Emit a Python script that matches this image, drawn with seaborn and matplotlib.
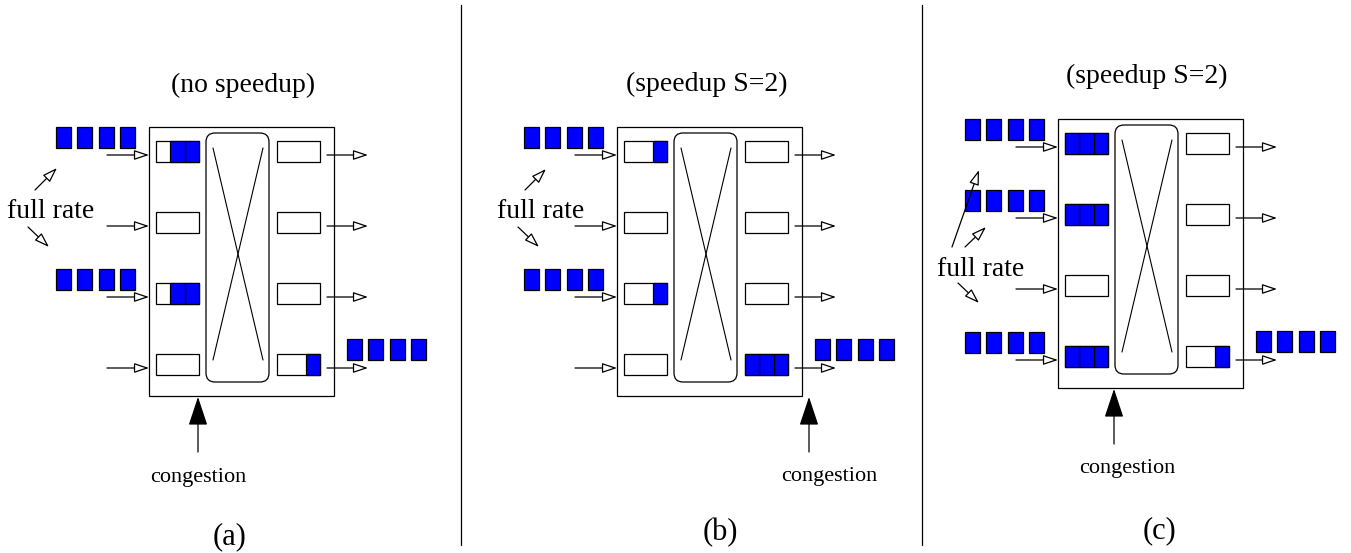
import matplotlib
matplotlib.use("Agg")
import matplotlib.pyplot as plt
from matplotlib.patches import Rectangle, FancyBboxPatch, FancyArrowPatch
import seaborn as sns


# --- diagram content ---
panel_labels = ["(a)", "(b)", "(c)"]
titles = ["(no speedup)", "(speedup S=2)", "(speedup S=2)"]
# packets waiting in each input / output queue (rows top to bottom)
in_queue = [[2, 0, 2, 0], [1, 0, 1, 0], [3, 3, 0, 3]]
out_queue = [[0, 0, 0, 1], [0, 0, 0, 3], [0, 0, 0, 1]]
# inputs receiving traffic at full rate, outputs sending
arrivals = [[0, 2], [0, 2], [0, 1, 3]]
departures = [[3], [3], [3]]
burst_len = 4
queue_cells = 3
n_ports = 4

# --- layout (pixels) ---
box_xy = [(149, 127), (617, 127), (1058, 119)]
box_w, box_h = 185, 269
row_pitch = 71
q_top0 = 14
q_w, q_h = 43, 21
in_q_x, out_q_x = 7, 128
pkt_w, pkt_pitch = 15, 21.3
title_pos = [(243, 92), (707, 91), (1147, 83)]
label_pos = [(230, 544), (720, 540), (1160, 538)]
cong_x = [49, 192, 56]
cong_text = [(198, 482), (829, 481), (1127, 473)]
rate_text = [(51, 218), (541, 218), (981, 276)]
rate_arrows = [
    [((35, 190), (57, 168)), ((28, 227), (49, 247))],
    [((525, 190), (546, 169)), ((518, 227), (539, 247))],
    [((952, 247), (979, 170)), ((965, 247), (986, 227)), ((958, 283), (979, 303))],
]
separators = [461, 922]
BLUE = "#0000ff"

sns.set_style("white")
plt.rcParams["font.family"] = ["Liberation Serif", "DejaVu Serif"]
plt.rcParams["text.color"] = "black"

fig = plt.figure(figsize=(13.51, 5.53), dpi=100)
ax = fig.add_axes([0, 0, 1, 1])
ax.set_xlim(0, 1351)
ax.set_ylim(553, 0)
ax.axis("off")

LW = 0.9


def hollow_arrow(p0, p1, scale=10):
    ax.add_patch(FancyArrowPatch(p0, p1, arrowstyle="-|>,head_length=0.9,head_width=0.3",
                                 mutation_scale=scale, lw=LW, ec="black", fc="white",
                                 shrinkA=0, shrinkB=0))


def queue(x, y, filled):
    ax.add_patch(Rectangle((x, y), q_w, q_h, fill=False, ec="black", lw=LW))
    cw = q_w / queue_cells
    for k in range(filled):
        ax.add_patch(Rectangle((x + q_w - (k + 1) * cw, y), cw, q_h,
                               fc=BLUE, ec="black", lw=LW))


def burst(x, y):
    for k in range(burst_len):
        ax.add_patch(Rectangle((x + k * pkt_pitch, y), pkt_w, q_h,
                               fc=BLUE, ec="black", lw=LW))


for i in range(3):
    bx, by = box_xy[i]
    ax.add_patch(Rectangle((bx, by), box_w, box_h, fill=False, ec="black", lw=LW))
    # crossbar
    ax.add_patch(FancyBboxPatch((bx + 57, by + 6), 63, 249,
                                boxstyle="round,pad=0,rounding_size=9",
                                fill=False, ec="black", lw=LW))
    ax.plot([bx + 64, bx + 114], [by + 21, by + 233], color="black", lw=0.8)
    ax.plot([bx + 114, bx + 64], [by + 21, by + 233], color="black", lw=0.8)

    for r in range(n_ports):
        qy = by + q_top0 + r * row_pitch
        queue(bx + in_q_x, qy, in_queue[i][r])
        queue(bx + out_q_x, qy, out_queue[i][r])
        ay = qy + 14
        hollow_arrow((bx - 42, ay), (bx, ay))
        hollow_arrow((bx + 178, ay), (bx + 219, ay))

    for r in arrivals[i]:
        burst(bx - 93, by + r * row_pitch)
    for r in departures[i]:
        burst(bx + 198, by + q_top0 + r * row_pitch - 15)

    # congestion point
    cx = bx + cong_x[i]
    ax.add_patch(FancyArrowPatch((cx, by + box_h + 56), (cx, by + box_h + 1),
                                 arrowstyle="-|>,head_length=1.8,head_width=0.6",
                                 mutation_scale=10, lw=LW, color="black",
                                 shrinkA=0, shrinkB=0))
    ax.text(*cong_text[i], "congestion", fontsize=16, ha="center", va="baseline")

    ax.text(*rate_text[i], "full rate", fontsize=20, ha="center", va="baseline")
    for p0, p1 in rate_arrows[i]:
        hollow_arrow(p0, p1)

    ax.text(*title_pos[i], titles[i], fontsize=20, ha="center", va="baseline")
    ax.text(*label_pos[i], panel_labels[i], fontsize=22, ha="center", va="baseline")

for sx in separators:
    ax.plot([sx, sx], [5, 545], color="black", lw=LW)

fig.savefig("out.png", dpi=100)
